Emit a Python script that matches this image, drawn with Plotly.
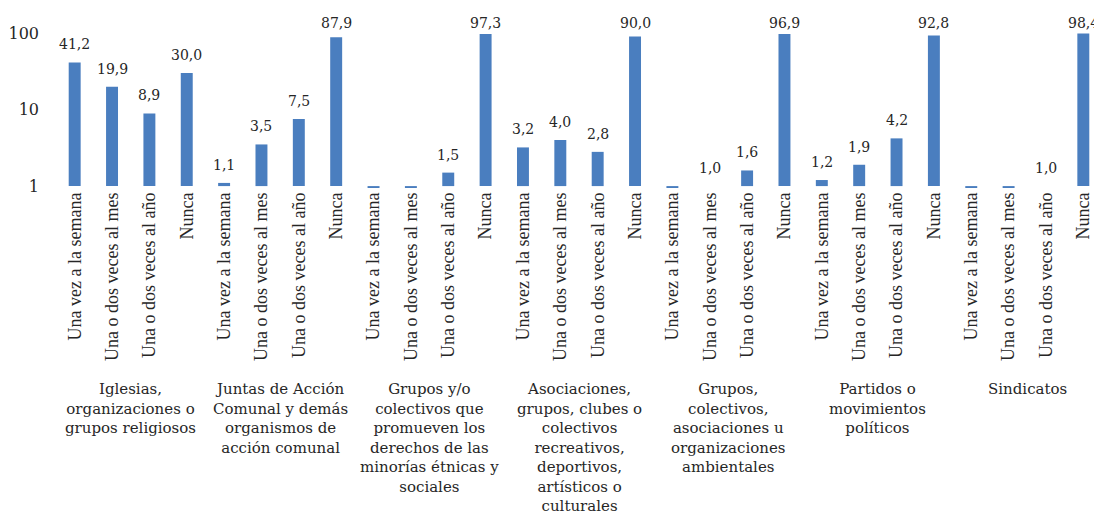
import math
import plotly.graph_objects as go

groups = [
    "Iglesias,<br>organizaciones o<br>grupos religiosos",
    "Juntas de Acción<br>Comunal y demás<br>organismos de<br>acción comunal",
    "Grupos y/o<br>colectivos que<br>promueven los<br>derechos de las<br>minorías étnicas y<br>sociales",
    "Asociaciones,<br>grupos, clubes o<br>colectivos<br>recreativos,<br>deportivos,<br>artísticos o<br>culturales",
    "Grupos,<br>colectivos,<br>asociaciones u<br>organizaciones<br>ambientales",
    "Partidos o<br>movimientos<br>políticos",
    "Sindicatos",
]
frequencies = ["Una vez a la semana", "Una o dos veces al mes", "Una o dos veces al año", "Nunca"]

iglesias = [41.2, 19.9, 8.9, 30.0]
juntas = [1.1, 3.5, 7.5, 87.9]
minorias = [0.6, 0.6, 1.5, 97.3]
asociaciones = [3.2, 4.0, 2.8, 90.0]
ambientales = [0.5, 1.0, 1.6, 96.9]
partidos = [1.2, 1.9, 4.2, 92.8]
sindicatos = [0.3, 0.3, 1.0, 98.4]

series = [iglesias, juntas, minorias, asociaciones, ambientales, partidos, sindicatos]

keys, inner, values = [], [], []
for gi, (g, vals) in enumerate(zip(groups, series)):
    for f, v in zip(frequencies, vals):
        keys.append(f"{gi}|{f}")
        inner.append(f)
        values.append(v)

Y_RANGE = [-0.025, 2.0]
MARGIN_T, MARGIN_B, HEIGHT = 25, 326, 506
plot_h = HEIGHT - MARGIN_T - MARGIN_B
px_per_decade = plot_h / (Y_RANGE[1] - Y_RANGE[0])

# Bars grow from the axis crossing at 1 (as on a log axis in a spreadsheet)
AXIS_BASE = 1
fig = go.Figure(go.Bar(
    x=keys,
    y=[v - AXIS_BASE for v in values],
    base=AXIS_BASE,
    cliponaxis=False,
    hoverinfo="skip",
    marker=dict(color="#4A7EBF", line=dict(width=0)),
))

# data labels: above each bar, kept inside the chart area for the tallest bars
for k, v in zip(keys, values):
    if v < 1:
        continue
    dist_from_top = (Y_RANGE[1] - math.log10(v)) * px_per_decade
    fig.add_annotation(
        x=k, xref="x", y=math.log10(v), yref="y",
        yanchor="bottom", xanchor="center",
        yshift=min(8, dist_from_top),
        text=f"{v:.1f}".replace(".", ","), showarrow=False,
        font=dict(family="DejaVu Serif", size=14, color="#262626"),
    )

n_per = len(frequencies)
for gi, g in enumerate(groups):
    fig.add_annotation(
        x=gi * n_per + (n_per - 1) / 2, xref="x",
        y=-1.228, yref="paper", yanchor="top", xanchor="center",
        text=g, showarrow=False, align="center",
        font=dict(family="DejaVu Serif", size=15, color="#262626"),
    )

# page body adds an 8px offset; figure sized to fill the remaining window
fig.update_layout(
    width=1094, height=HEIGHT,
    margin=dict(l=48, r=0, t=MARGIN_T, b=MARGIN_B),
    plot_bgcolor="white", paper_bgcolor="white",
    bargap=0.68,
    showlegend=False,
)
fig.update_yaxes(
    type="log", range=Y_RANGE,
    tickvals=[1, 10, 100], ticktext=["1", "10", "100"],
    showgrid=False, zeroline=False, showline=False, ticks="",
    tickfont=dict(family="DejaVu Serif", size=16, color="#262626"),
    ticklabelstandoff=16, automargin=False,
)
fig.update_xaxes(
    type="category",
    tickvals=keys, ticktext=inner,
    showgrid=False, showline=False, ticks="", tickangle=-90,
    tickfont=dict(family="Liberation Serif", size=18, color="#262626"),
    automargin=False,
)

fig.write_html("out.html")
